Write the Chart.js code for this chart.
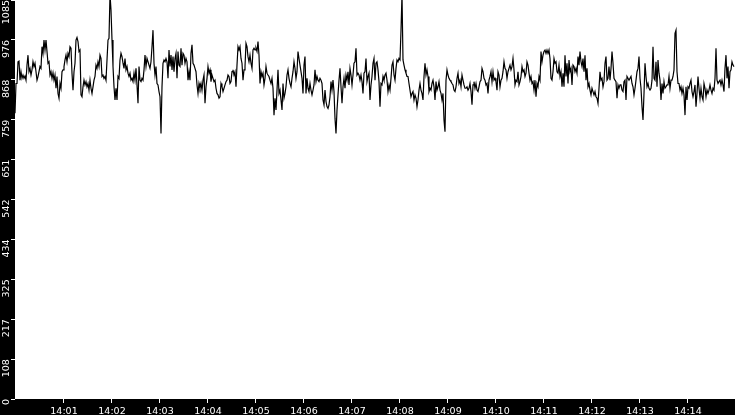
<!DOCTYPE html>
<html>
<head>
<meta charset="utf-8">
<script src="https://cdn.jsdelivr.net/npm/chart.js@4/dist/chart.umd.min.js"></script>
<style>
  html, body { margin: 0; padding: 0; background: #000; overflow: hidden; }
  #wrap { width: 735px; height: 415px; }
</style>
</head>
<body>
<div id="wrap"><canvas id="c" width="735" height="415"></canvas></div>
<script>
// Sampling: one reading every 1.25 s starting at 14:00:00 (seconds since 14:00)
const sampleInterval = 1.25;

// Readings 14:00:00 - 14:02:30
const seg1 = [
  777,858,858,917,919,867,890,872,881,872,
  878,867,908,935,890,899,881,895,917,904,
  913,890,867,877,890,904,899,958,940,976,
  949,976,945,913,917,881,890,872,887,867,
  881,845,877,831,818,858,845,890,895,904,
  922,935,917,940,931,958,954,886,840,890,
  913,976,983,972,945,949,827,822,849,867,
  854,863,849,858,840,867,845,831,849,867,
  877,908,899,917,904,935,926,877,881,872,
  877,867,922,976,981,1100,1058,976,904,849,
  813,845,813,877,872,922,940,931,913,899,
  926,895,904,886,877,886,867,872,863,886
];
// Readings 14:02:30 - 14:05:00
const seg2 = [
  867,899,854,804,904,867,863,872,867,895,
  935,904,926,917,908,899,917,958,1003,913,
  881,904,858,854,836,822,722,849,913,922,
  917,926,917,872,949,904,935,895,931,890,
  926,940,872,945,908,904,954,908,940,935,
  913,926,917,867,890,867,940,963,913,908,
  899,890,854,831,858,845,858,840,867,881,
  804,849,872,904,886,895,863,881,872,863,
  867,845,831,827,818,822,858,849,836,845,
  854,863,867,881,877,858,863,890,895,881,
  890,849,908,958,949,958,926,913,867,895,
  904,967,958,931,917,935,913,899,949,954
];
// Readings 14:05:00 - 14:07:30
const seg3 = [
  949,954,945,972,935,858,890,877,886,854,
  872,904,886,881,877,867,858,872,845,772,
  818,786,840,895,831,840,813,786,858,818,
  831,849,881,895,872,858,849,872,890,917,
  899,872,890,945,926,908,890,872,831,908,
  931,831,872,845,836,858,840,827,840,854,
  895,863,877,867,863,872,867,858,813,800,
  840,809,795,790,800,822,863,840,867,836,
  763,722,786,827,867,899,849,804,849,872,
  845,881,867,890,854,899,881,854,881,913,
  917,954,881,886,881,867,881,863,831,886,
  890,926,863,877,886,813,854,877,913,926
];
// Readings 14:07:30 - 14:10:00
const seg4 = [
  867,913,917,895,863,795,858,854,877,867,
  881,886,867,836,854,840,872,908,917,881,
  867,899,922,917,926,922,1003,1100,922,908,
  895,886,877,877,858,840,822,831,836,813,
  827,818,795,813,840,858,840,831,813,877,
  913,881,895,877,836,845,840,858,867,849,
  813,863,840,849,863,840,831,813,831,759,
  727,867,895,881,872,867,863,858,854,840,
  836,849,872,886,858,867,849,881,867,854,
  845,845,849,840,845,858,836,800,854,863,
  845,858,840,836,849,863,867,899,890,872,
  867,854,858,831,867,877,890,863,890,867
];
// Readings 14:10:00 - 14:12:30
const seg5 = [
  872,863,840,890,881,849,867,872,890,917,
  899,895,872,890,899,908,895,904,926,895,
  854,867,863,890,854,863,877,904,890,895,
  877,886,917,908,886,867,877,858,863,840,
  867,822,858,849,877,867,945,917,935,945,
  949,940,949,940,949,926,872,867,890,926,
  913,917,890,886,908,877,890,849,886,849,
  935,877,913,858,922,890,899,854,908,904,
  890,899,886,931,908,945,917,904,926,890,
  935,867,899,849,858,840,827,845,836,827,
  836,822,818,804,845,890,867,872,849,863,
  913,931,867,872,904,867,899,945,913,872
];
// Readings 14:12:30 - 14:15:00
const seg6 = [
  867,863,818,854,845,854,854,840,836,863,
  867,813,877,872,867,872,877,858,849,827,
  845,867,890,899,931,872,845,795,759,831,
  913,877,849,858,845,840,845,867,958,872,
  867,917,849,922,886,867,813,858,831,863,
  845,849,854,854,877,845,867,867,877,895,
  994,1003,890,858,858,840,849,831,845,827,
  772,849,813,849,845,858,867,836,822,836,
  854,795,831,877,845,818,845,822,813,858,
  845,822,840,831,840,854,840,831,845,840,
  872,954,867,858,863,867,854,867,854,836,
  899,935,872,904,845,890,895,917,908,904
];

const minuteLabels = ['14:01','14:02','14:03','14:04','14:05','14:06','14:07',
                      '14:08','14:09','14:10','14:11','14:12','14:13','14:14'];
const yTickLabels = ['0','108','217','325','434','542','651','759','868','976','1085'];
const yMax = 1085;
const ySteps = 10;

const seriesValues = [].concat(seg1, seg2, seg3, seg4, seg5, seg6);
const points = seriesValues.map((v, i) => ({ x: i * sampleInterval, y: v }));

const plotBg = {
  id: 'plotBg',
  beforeDraw(chart) {
    const { ctx, chartArea: a } = chart;
    ctx.save();
    ctx.fillStyle = '#000';
    ctx.fillRect(0, 0, chart.width, chart.height);
    ctx.fillStyle = '#fff';
    ctx.fillRect(a.left, a.top, a.right - a.left, a.bottom - a.top);
    ctx.restore();
  }
};

new Chart(document.getElementById('c'), {
  type: 'line',
  data: {
    datasets: [{
      data: points,
      borderColor: '#000',
      borderWidth: 1.2,
      pointRadius: 0,
      tension: 0,
      fill: false
    }]
  },
  options: {
    responsive: false,
    devicePixelRatio: 1,
    animation: false,
    layout: { padding: 0 },
    plugins: { legend: { display: false }, tooltip: { enabled: false } },
    scales: {
      x: {
        type: 'linear',
        min: 0,
        max: 900,
        afterFit(s) { s.height = 16; s.paddingLeft = 0; s.paddingRight = 0; },
        border: { display: false },
        grid: {
          drawOnChartArea: false,
          drawTicks: true,
          tickLength: 4,
          tickColor: (c) => (c.tick && (c.tick.value === 0 || c.tick.value === 900)) ? 'rgba(0,0,0,0)' : '#fff',
          tickWidth: 1
        },
        ticks: {
          stepSize: 60,
          autoSkip: false,
          maxRotation: 0,
          minRotation: 0,
          padding: 3,
          labelOffset: 1,
          color: '#fff',
          font: { family: 'DejaVu Sans', size: 9.5 },
          callback: (v) => minuteLabels[Math.round(v / 60) - 1] || ''
        }
      },
      y: {
        min: 0,
        max: yMax,
        afterFit(s) { s.width = 15; s.paddingTop = 0; s.paddingBottom = 0; },
        border: { display: false },
        grid: {
          drawOnChartArea: false,
          drawTicks: true,
          tickLength: 4,
          tickColor: '#fff',
          tickWidth: 1
        },
        ticks: {
          stepSize: yMax / ySteps,
          autoSkip: false,
          minRotation: 90,
          maxRotation: 90,
          padding: 4,
          color: '#fff',
          font: { family: 'DejaVu Sans', size: 9.5 },
          callback: (v, i) => yTickLabels[i]
        }
      }
    }
  },
  plugins: [plotBg]
});
</script>
</body>
</html>
